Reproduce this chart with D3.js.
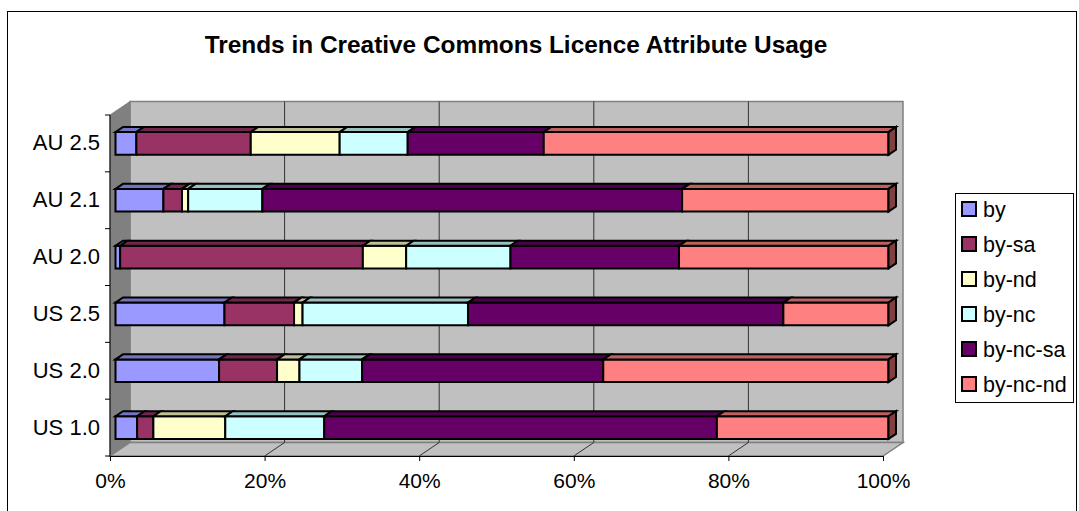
<!DOCTYPE html>
<html>
<head>
<meta charset="utf-8">
<script src="https://cdn.jsdelivr.net/npm/d3@7"></script>
<style>
  html, body { margin: 0; padding: 0; background: #fff; }
  svg { display: block; font-family: Arial, "Liberation Sans", sans-serif; }
</style>
</head>
<body>
<svg id="chart" width="1079" height="511"></svg>
<script>
/* Trends in Creative Commons Licence Attribute Usage — 3D 100% stacked bars */

const CATEGORIES = ['AU 2.5', 'AU 2.1', 'AU 2.0', 'US 2.5', 'US 2.0', 'US 1.0'];
const SERIES     = ['by', 'by-sa', 'by-nd', 'by-nc', 'by-nc-sa', 'by-nc-nd'];
const COLORS     = ['#9999ff', '#993366', '#ffffcc', '#ccffff', '#660066', '#ff8080'];

// share per licence (percent), one array per category, in SERIES order
const AU_25 = [2.7, 14.8, 11.5, 8.8, 17.6, 44.6];
const AU_21 = [6.2, 2.4, 0.8, 9.6, 54.3, 26.7];
const AU_20 = [0.6, 31.4, 5.6, 13.5, 21.8, 27.1];
const US_25 = [14.1, 9.0, 1.1, 21.4, 40.8, 13.6];
const US_20 = [13.4, 7.5, 2.9, 8.1, 31.2, 36.9];
const US_10 = [2.8, 2.1, 9.3, 12.8, 50.8, 22.2];
const VALUES = [AU_25, AU_21, AU_20, US_25, US_20, US_10];

const X_TICKS = [0, 0.2, 0.4, 0.6, 0.8, 1];

const svg = d3.select('#chart');

/* ---- geometry ------------------------------------------------------------ */
const DX = 20, DY = 13.5;          // wall depth offset
const Z0 = 0.275, Z1 = 0.65;       // bar depth inside the box

const x = d3.scaleLinear().domain([0, 1]).range([110, 883]);
const y = d3.scaleBand().domain(CATEGORIES).range([115, 456])
  .paddingInner(0.6).paddingOuter(0.3);
const yEdge = d3.scaleLinear().domain([0, CATEGORIES.length]).range([115, 456]);

function P(v, py, z) { return [x(v) + z * DX, py - z * DY]; }
function poly(pts) { return pts.map(p => p.join(',')).join(' '); }

/* ---- frame & title ------------------------------------------------------- */
svg.append('rect')
  .attr('x', 7.5).attr('y', 11.5).attr('width', 1069).attr('height', 520)
  .attr('fill', '#fff').attr('stroke', '#000').attr('stroke-width', 1);

svg.append('text')
  .attr('x', 516).attr('y', 53)
  .attr('text-anchor', 'middle')
  .attr('font-size', 24.4).attr('font-weight', 'bold')
  .text('Trends in Creative Commons Licence Attribute Usage');

/* ---- walls --------------------------------------------------------------- */
const yTop = yEdge(0), yBot = yEdge(CATEGORIES.length);

svg.append('polygon')    // back wall
  .attr('points', poly([P(0, yTop, 1), P(1, yTop, 1), P(1, yBot, 1), P(0, yBot, 1)]))
  .attr('fill', '#c0c0c0').attr('stroke', '#808080').attr('stroke-width', 1.5);

svg.append('polygon')    // side wall
  .attr('points', poly([P(0, yTop, 0), P(0, yTop, 1), P(0, yBot, 1), P(0, yBot, 0)]))
  .attr('fill', '#808080').attr('stroke', '#808080').attr('stroke-width', 1);

svg.append('polygon')    // floor
  .attr('points', poly([P(0, yBot, 0), P(1, yBot, 0), P(1, yBot, 1), P(0, yBot, 1)]))
  .attr('fill', '#c0c0c0').attr('stroke', '#808080').attr('stroke-width', 1.5);

const inner = X_TICKS.slice(1, -1);
svg.append('g').selectAll('line').data(inner).enter().append('line')
  .attr('x1', d => P(d, yTop, 1)[0]).attr('y1', P(0, yTop, 1)[1])
  .attr('x2', d => P(d, yBot, 1)[0]).attr('y2', P(0, yBot, 1)[1])
  .attr('stroke', '#333').attr('stroke-width', 1);
svg.append('g').selectAll('line').data(inner).enter().append('line')
  .attr('x1', d => P(d, yBot, 0)[0]).attr('y1', P(0, yBot, 0)[1])
  .attr('x2', d => P(d, yBot, 1)[0]).attr('y2', P(0, yBot, 1)[1])
  .attr('stroke', '#333').attr('stroke-width', 1);

/* ---- axes ---------------------------------------------------------------- */
const gx = svg.append('g').attr('transform', `translate(0,${yBot})`)
  .call(d3.axisBottom(x).tickValues(X_TICKS).tickFormat(d3.format('.0%'))
    .tickSizeInner(5).tickSizeOuter(0).tickPadding(12));
gx.select('.domain').attr('stroke', '#000');
gx.selectAll('text').attr('font-size', 21).attr('fill', '#000')
  .attr('font-family', 'Arial, "Liberation Sans", sans-serif');

svg.append('line')
  .attr('x1', x(0)).attr('x2', x(0)).attr('y1', yTop).attr('y2', yBot)
  .attr('stroke', '#000');
svg.append('g').selectAll('line').data(d3.range(CATEGORIES.length + 1)).enter().append('line')
  .attr('x1', x(0) - 5).attr('x2', x(0))
  .attr('y1', d => yEdge(d)).attr('y2', d => yEdge(d))
  .attr('stroke', '#000');
svg.append('g').selectAll('text').data(CATEGORIES).enter().append('text')
  .attr('x', 100)
  .attr('y', d => y(d) + y.bandwidth() / 2 + 7)
  .attr('text-anchor', 'end')
  .attr('font-size', 22)
  .text(d => d);

/* ---- bars ---------------------------------------------------------------- */
const gBars = svg.append('g')
  .attr('stroke', '#000').attr('stroke-width', 2).attr('stroke-linejoin', 'miter');

CATEGORIES.forEach((cat, ci) => {
  const vals = VALUES[ci];
  const total = d3.sum(vals);
  const cum = [0].concat(Array.from(d3.cumsum(vals), v => v / total));
  const t = y(cat) + Z0 * DY, b = t + y.bandwidth();   // front face in the z0 plane
  const g = gBars.append('g');
  SERIES.forEach((s, si) => {
    const v0 = cum[si], v1 = cum[si + 1];
    const c = d3.rgb(COLORS[si]);
    g.append('polygon')    // front
      .attr('points', poly([P(v0, t, Z0), P(v1, t, Z0), P(v1, b, Z0), P(v0, b, Z0)]))
      .attr('fill', c.formatHex());
    g.append('polygon')    // top
      .attr('points', poly([P(v0, t, Z0), P(v0, t, Z1), P(v1, t, Z1), P(v1, t, Z0)]))
      .attr('fill', d3.rgb(c.r * 0.75, c.g * 0.75, c.b * 0.75).formatHex());
    if (si === SERIES.length - 1) {
      g.append('polygon')  // end cap
        .attr('points', poly([P(v1, t, Z0), P(v1, t, Z1), P(v1, b, Z1), P(v1, b, Z0)]))
        .attr('fill', d3.rgb(c.r * 0.5, c.g * 0.5, c.b * 0.5).formatHex());
    }
  });
});

/* ---- legend -------------------------------------------------------------- */
const legend = svg.append('g');
legend.append('rect')
  .attr('x', 955.5).attr('y', 193.5).attr('width', 118).attr('height', 209)
  .attr('fill', '#fff').attr('stroke', '#000');
const items = legend.selectAll('g.item').data(SERIES).enter().append('g')
  .attr('class', 'item')
  .attr('transform', (d, i) => `translate(962,${202 + i * 35})`);
items.append('rect')
  .attr('width', 14).attr('height', 14)
  .attr('fill', (d, i) => COLORS[i])
  .attr('stroke', '#000').attr('stroke-width', 2);
items.append('text')
  .attr('x', 21).attr('y', 15)
  .attr('font-size', 21.5)
  .text(d => d);
</script>
</body>
</html>
